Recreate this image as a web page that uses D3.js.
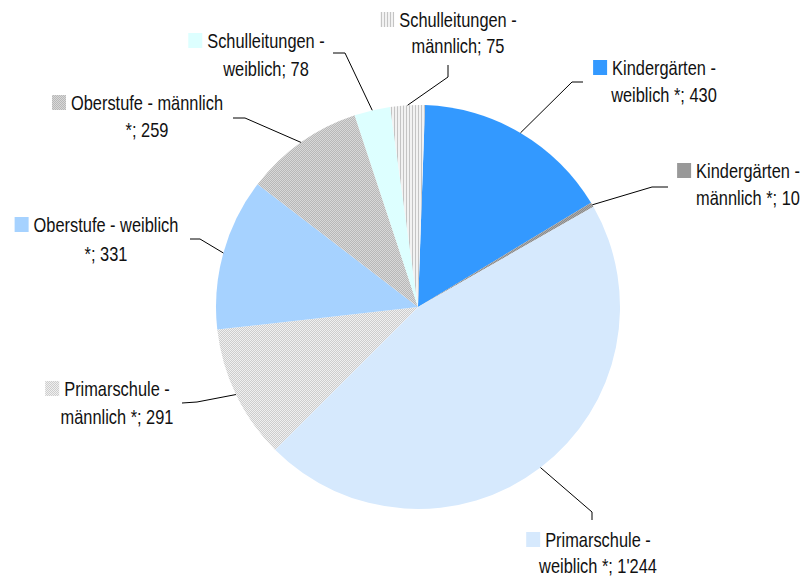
<!DOCTYPE html>
<html>
<head>
<meta charset="utf-8">
<script src="https://cdn.jsdelivr.net/npm/d3@7"></script>
<style>
  html, body { margin: 0; padding: 0; background: #fff; }
  svg { display: block; }
  text { font-family: "Liberation Sans", Arial, sans-serif; font-size: 20px; fill: #111; }
</style>
</head>
<body>
<svg id="chart" width="807" height="579"></svg>
<script>
// ---- data ----
const categories = [
  "Kindergärten - weiblich *",
  "Kindergärten - männlich *",
  "Primarschule - weiblich *",
  "Primarschule - männlich *",
  "Oberstufe - weiblich *",
  "Oberstufe - männlich *",
  "Schulleitungen - weiblich",
  "Schulleitungen - männlich"
];
const values = [430, 10, 1244, 291, 331, 259, 78, 75];
const valueLabels = ["430", "10", "1'244", "291", "331", "259", "78", "75"];
const labelLines = [
  ["Kindergärten -", "weiblich *; 430"],
  ["Kindergärten -", "männlich *; 10"],
  ["Primarschule -", "weiblich *; 1'244"],
  ["Primarschule -", "männlich *; 291"],
  ["Oberstufe - weiblich", "*; 331"],
  ["Oberstufe - männlich", "*; 259"],
  ["Schulleitungen -", "weiblich; 78"],
  ["Schulleitungen -", "männlich; 75"]
];

// ---- styles / layout ----
const fills = ["#3399ff", "url(#patKM)", "#d6e9fd", "url(#patPM)", "#a6d2ff", "url(#patOM)", "#ddffff", "url(#patSM)"];
const keyFills = ["#3399ff", "#999999", "#d6e9fd", "url(#patPM)", "#a6d2ff", "url(#patOM)", "#ddffff", "url(#patSM)"];
const textScale = 0.82;
// label center x, first baseline y, line spacing, leader elbow and end
const labelLayout = [
  {cx: 664, y: 75,  dy: 27, elbow: [572, 82],  end: [583, 82]},
  {cx: 748, y: 178, dy: 27, elbow: [652, 187], end: [668, 187]},
  {cx: 598, y: 547, dy: 26, elbow: [592, 512], end: [592, 520]},
  {cx: 117, y: 396, dy: 28, elbow: [197, 402], end: [182, 403]},
  {cx: 106, y: 232, dy: 29, elbow: [200, 239], end: [190, 239]},
  {cx: 147, y: 110, dy: 27, elbow: [245, 118], end: [233, 118]},
  {cx: 266, y: 48,  dy: 28, elbow: [345, 53],  end: [333, 53]},
  {cx: 458, y: 27,  dy: 26, elbow: [448, 77],  end: [448, 65]}
];

const cx = 418, cy = 307, R = 202;
const startOffset = 2 * Math.PI / 180;

const svg = d3.select("#chart");
const defs = svg.append("defs");

function checker(id, a, b) {
  const p = defs.append("pattern").attr("id", id).attr("patternUnits", "userSpaceOnUse")
    .attr("width", 2).attr("height", 2);
  p.append("rect").attr("width", 2).attr("height", 2).attr("fill", a);
  p.append("rect").attr("width", 1).attr("height", 1).attr("fill", b);
  p.append("rect").attr("x", 1).attr("y", 1).attr("width", 1).attr("height", 1).attr("fill", b);
}
checker("patKM", "#8c8c8c", "#a8a8a8");
checker("patPM", "#f0f0f0", "#cdcdcd");
checker("patOM", "#d8d8d8", "#b8b8b8");
{
  const p = defs.append("pattern").attr("id", "patSM").attr("patternUnits", "userSpaceOnUse")
    .attr("width", 3).attr("height", 3);
  p.append("rect").attr("width", 3).attr("height", 3).attr("fill", "#f2f2f2");
  p.append("rect").attr("width", 1).attr("height", 3).attr("fill", "#c4c4c4");
}

const pie = d3.pie().sort(null).value(d => d)
  .startAngle(startOffset).endAngle(2 * Math.PI + startOffset);
const arcs = pie(values);
const arc = d3.arc().innerRadius(0).outerRadius(R);
const rim = d3.arc().innerRadius(R).outerRadius(R);

const g = svg.append("g").attr("transform", `translate(${cx},${cy})`);
g.selectAll("path.slice").data(arcs).join("path")
  .attr("class", "slice")
  .attr("d", arc)
  .attr("fill", (d, i) => fills[i]);

// leader lines
const line = d3.line();
svg.selectAll("path.leader").data(arcs).join("path")
  .attr("class", "leader")
  .attr("fill", "none")
  .attr("stroke", "#000")
  .attr("stroke-width", 1)
  .attr("d", (d, i) => {
    const c = rim.centroid(d);
    const L = labelLayout[i];
    return line([[cx + c[0], cy + c[1]], L.elbow, L.end]);
  });

// labels
arcs.forEach((d, i) => {
  const L = labelLayout[i];
  const lg = svg.append("g");
  const t = lg.append("text").attr("text-anchor", "middle")
    .attr("transform", `translate(${L.cx},0) scale(${textScale},1) translate(${-L.cx},0)`);
  labelLines[i].forEach((s, k) => {
    t.append("tspan").attr("x", L.cx).attr("y", L.y + k * L.dy).text(s);
  });
  const first = t.select("tspan").node();
  const w = first.getComputedTextLength() * textScale;
  const left = L.cx - w / 2;
  lg.append("rect")
    .attr("x", left - 19).attr("y", L.y - 15)
    .attr("width", 14).attr("height", 15)
    .attr("fill", keyFills[i]);
});
</script>
</body>
</html>
